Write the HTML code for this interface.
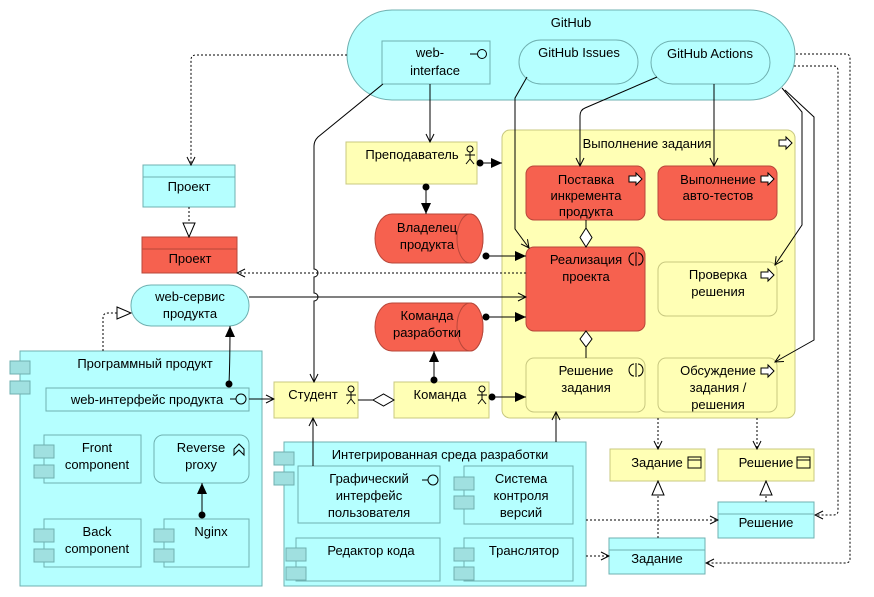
<!DOCTYPE html>
<html><head><meta charset="utf-8"><style>
html,body{margin:0;padding:0;background:#fff;}
svg{display:block;font-family:"Liberation Sans","DejaVu Sans",sans-serif;font-size:13px;}
</style></head><body>
<svg width="874" height="597" viewBox="0 0 874 597" xmlns="http://www.w3.org/2000/svg">
<defs>
<marker id="oa" markerWidth="10" markerHeight="10" refX="9" refY="5" orient="auto" markerUnits="userSpaceOnUse"><path d="M1,1 L9,5 L1,9" fill="none" stroke="#000" stroke-width="1"/></marker>
<marker id="fa" markerWidth="12" markerHeight="10" refX="11" refY="5" orient="auto" markerUnits="userSpaceOnUse"><path d="M0,0 L11,5 L0,10 Z" fill="#000"/></marker>
<marker id="dot" markerWidth="8" markerHeight="8" refX="4" refY="4" orient="auto" markerUnits="userSpaceOnUse"><circle cx="4" cy="4" r="3.5" fill="#000"/></marker>
<marker id="tri" markerWidth="16" markerHeight="14" refX="15" refY="7" orient="auto" markerUnits="userSpaceOnUse"><path d="M1,1 L15,7 L1,13 Z" fill="#fff" stroke="#000"/></marker>
</defs>

<!-- GitHub -->
<rect x="347" y="10" width="448" height="90" rx="45" fill="#b5ffff" stroke="#6fb0b0"/>
<text x="571" y="27" text-anchor="middle">GitHub</text>
<rect x="382" y="41" width="108" height="43" fill="#b5ffff" stroke="#6fb0b0"/>
<text x="430" y="57" text-anchor="middle">web-</text><text x="435" y="75" text-anchor="middle">interface</text>
<line x1="470" y1="54" x2="477" y2="54" stroke="#000"/><circle cx="482" cy="54" r="4.5" fill="none" stroke="#000"/>
<rect x="519" y="40" width="119" height="44" rx="22" fill="#b5ffff" stroke="#6fb0b0"/>
<text x="579" y="57" text-anchor="middle">GitHub Issues</text>
<rect x="651" y="41" width="119" height="43" rx="21.5" fill="#b5ffff" stroke="#6fb0b0"/>
<text x="710" y="58" text-anchor="middle">GitHub Actions</text>

<!-- Выполнение задания -->
<rect x="502" y="130" width="293" height="288" rx="8" fill="#ffffb5" stroke="#c8c880"/>
<text x="647" y="148" text-anchor="middle">Выполнение задания</text>
<path d="M779,140 h7 v-3 l6,6 l-6,6 v-3 h-7 z" fill="#fff" stroke="#000"/>

<rect x="526" y="166" width="119" height="54" rx="8" fill="#f6614f" stroke="#b8473a"/>
<text x="586" y="184" text-anchor="middle">Поставка</text><text x="586" y="200" text-anchor="middle">инкремента</text><text x="586" y="216" text-anchor="middle">продукта</text>
<path d="M629,176 h7 v-3 l6,6 l-6,6 v-3 h-7 z" fill="#fff" stroke="#000"/>
<rect x="658" y="166" width="119" height="54" rx="8" fill="#f6614f" stroke="#b8473a"/>
<text x="718" y="184" text-anchor="middle">Выполнение</text><text x="718" y="200" text-anchor="middle">авто-тестов</text>
<path d="M761,176 h7 v-3 l6,6 l-6,6 v-3 h-7 z" fill="#fff" stroke="#000"/>
<rect x="526" y="247" width="119" height="84" rx="8" fill="#f6614f" stroke="#b8473a"/>
<text x="586" y="264" text-anchor="middle">Реализация</text><text x="586" y="281" text-anchor="middle">проекта</text>
<path d="M634,253 a5,6 0 0 0 0,12 M638,253 a5,6 0 0 1 0,12 M636,252 v14" fill="none" stroke="#000"/>
<rect x="658" y="262" width="119" height="54" rx="8" fill="#ffffb5" stroke="#c8c880"/>
<text x="718" y="279" text-anchor="middle">Проверка</text><text x="718" y="296" text-anchor="middle">решения</text>
<path d="M761,272 h7 v-3 l6,6 l-6,6 v-3 h-7 z" fill="#fff" stroke="#000"/>
<rect x="526" y="358" width="119" height="54" rx="8" fill="#ffffb5" stroke="#c8c880"/>
<text x="586" y="375" text-anchor="middle">Решение</text><text x="586" y="392" text-anchor="middle">задания</text>
<path d="M634,364 a5,6 0 0 0 0,12 M638,364 a5,6 0 0 1 0,12 M636,363 v14" fill="none" stroke="#000"/>
<rect x="658" y="358" width="119" height="54" rx="8" fill="#ffffb5" stroke="#c8c880"/>
<text x="718" y="375" text-anchor="middle">Обсуждение</text><text x="718" y="392" text-anchor="middle">задания /</text><text x="718" y="409" text-anchor="middle">решения</text>
<path d="M761,368 h7 v-3 l6,6 l-6,6 v-3 h-7 z" fill="#fff" stroke="#000"/>

<!-- Преподаватель -->
<rect x="346" y="142" width="131" height="42" fill="#ffffb5" stroke="#c8c880"/>
<text x="412" y="159" text-anchor="middle">Преподаватель</text>
<g fill="none" stroke="#000"><circle cx="470" cy="149" r="3"/><path d="M470,152 v7 M465,155 h10 M470,159 l-4,5 M470,159 l4,5"/></g>

<!-- Проект -->
<rect x="143" y="165" width="92" height="42" fill="#b5ffff" stroke="#6fb0b0"/><line x1="143" y1="177" x2="235" y2="177" stroke="#6fb0b0"/>
<text x="189" y="191" text-anchor="middle">Проект</text>
<rect x="142" y="237" width="95" height="36" fill="#f6614f" stroke="#b8473a"/><line x1="142" y1="249" x2="237" y2="249" stroke="#b8473a"/>
<text x="190" y="263" text-anchor="middle">Проект</text>

<!-- cylinders -->
<path d="M392,214 H470 A13,24.5 0 0 1 470,263 H392 A17,24.5 0 0 1 392,214 Z" fill="#f6614f" stroke="#b8473a"/>
<ellipse cx="470" cy="238.5" rx="13" ry="24.5" fill="#f6614f" stroke="#b8473a"/>
<text x="427" y="232" text-anchor="middle">Владелец</text><text x="427" y="249" text-anchor="middle">продукта</text>
<path d="M392,303 H470 A13,24 0 0 1 470,351 H392 A17,24 0 0 1 392,303 Z" fill="#f6614f" stroke="#b8473a"/>
<ellipse cx="470" cy="327" rx="13" ry="24" fill="#f6614f" stroke="#b8473a"/>
<text x="427" y="320" text-anchor="middle">Команда</text><text x="427" y="337" text-anchor="middle">разработки</text>

<!-- web-сервис -->
<rect x="131" y="285" width="118" height="41" rx="20" fill="#b5ffff" stroke="#6fb0b0"/>
<text x="190" y="301" text-anchor="middle">web-сервис</text><text x="190" y="318" text-anchor="middle">продукта</text>

<!-- Программный продукт -->
<rect x="20" y="351" width="242" height="235" fill="#b5ffff" stroke="#6fb0b0"/>
<rect x="10" y="361" width="20" height="13" fill="#a0e0e0" stroke="#6fb0b0"/><rect x="10" y="381" width="20" height="13" fill="#a0e0e0" stroke="#6fb0b0"/>
<text x="145" y="368" text-anchor="middle">Программный продукт</text>
<rect x="46" y="388" width="203" height="23" fill="#b5ffff" stroke="#6fb0b0"/>
<text x="147" y="404" text-anchor="middle">web-интерфейс продукта</text>
<line x1="230" y1="399" x2="236" y2="399" stroke="#000"/><circle cx="241" cy="399" r="5" fill="none" stroke="#000"/>
<rect x="44" y="435" width="97" height="48" fill="#b5ffff" stroke="#6fb0b0"/>
<rect x="34" y="445" width="20" height="13" fill="#a0e0e0" stroke="#6fb0b0"/><rect x="34" y="465" width="20" height="13" fill="#a0e0e0" stroke="#6fb0b0"/>
<text x="97" y="452" text-anchor="middle">Front</text><text x="97" y="469" text-anchor="middle">component</text>
<rect x="154" y="435" width="95" height="48" rx="9" fill="#b5ffff" stroke="#6fb0b0"/>
<text x="201" y="452" text-anchor="middle">Reverse</text><text x="201" y="469" text-anchor="middle">proxy</text>
<path d="M234,455 v-6 l5,-5 l5,5 v6 l-5,-5 z" fill="none" stroke="#000"/>
<rect x="44" y="519" width="97" height="48" fill="#b5ffff" stroke="#6fb0b0"/>
<rect x="34" y="529" width="20" height="13" fill="#a0e0e0" stroke="#6fb0b0"/><rect x="34" y="549" width="20" height="13" fill="#a0e0e0" stroke="#6fb0b0"/>
<text x="97" y="536" text-anchor="middle">Back</text><text x="97" y="553" text-anchor="middle">component</text>
<rect x="164" y="519" width="85" height="48" fill="#b5ffff" stroke="#6fb0b0"/>
<rect x="154" y="529" width="20" height="13" fill="#a0e0e0" stroke="#6fb0b0"/><rect x="154" y="549" width="20" height="13" fill="#a0e0e0" stroke="#6fb0b0"/>
<text x="211" y="536" text-anchor="middle">Nginx</text>

<!-- Студент / Команда -->
<rect x="274" y="382" width="84" height="36" fill="#ffffb5" stroke="#c8c880"/>
<text x="313" y="399" text-anchor="middle">Студент</text>
<g fill="none" stroke="#000"><circle cx="351" cy="389" r="3"/><path d="M351,392 v7 M346,395 h10 M351,399 l-4,5 M351,399 l4,5"/></g>
<rect x="394" y="382" width="95" height="36" fill="#ffffb5" stroke="#c8c880"/>
<text x="440" y="399" text-anchor="middle">Команда</text>
<g fill="none" stroke="#000"><circle cx="482" cy="389" r="3"/><path d="M482,392 v7 M477,395 h10 M482,399 l-4,5 M482,399 l4,5"/></g>

<!-- ИСР -->
<rect x="284" y="442" width="302" height="144" fill="#b5ffff" stroke="#6fb0b0"/>
<rect x="274" y="452" width="20" height="13" fill="#a0e0e0" stroke="#6fb0b0"/><rect x="274" y="472" width="20" height="13" fill="#a0e0e0" stroke="#6fb0b0"/>
<text x="440" y="459" text-anchor="middle">Интегрированная среда разработки</text>
<rect x="298" y="466" width="142" height="57" fill="#b5ffff" stroke="#6fb0b0"/>
<text x="369" y="483" text-anchor="middle">Графический</text><text x="369" y="500" text-anchor="middle">интерфейс</text><text x="369" y="517" text-anchor="middle">пользователя</text>
<line x1="422" y1="480" x2="428" y2="480" stroke="#000"/><circle cx="433" cy="480" r="5" fill="none" stroke="#000"/>
<rect x="464" y="466" width="109" height="58" fill="#b5ffff" stroke="#6fb0b0"/>
<rect x="454" y="477" width="20" height="13" fill="#a0e0e0" stroke="#6fb0b0"/><rect x="454" y="496" width="20" height="13" fill="#a0e0e0" stroke="#6fb0b0"/>
<text x="521" y="483" text-anchor="middle">Система</text><text x="521" y="500" text-anchor="middle">контроля</text><text x="521" y="517" text-anchor="middle">версий</text>
<rect x="296" y="538" width="144" height="43" fill="#b5ffff" stroke="#6fb0b0"/>
<rect x="286" y="548" width="20" height="13" fill="#a0e0e0" stroke="#6fb0b0"/><rect x="286" y="567" width="20" height="13" fill="#a0e0e0" stroke="#6fb0b0"/>
<text x="371" y="555" text-anchor="middle">Редактор кода</text>
<rect x="464" y="538" width="109" height="43" fill="#b5ffff" stroke="#6fb0b0"/>
<rect x="454" y="548" width="20" height="13" fill="#a0e0e0" stroke="#6fb0b0"/><rect x="454" y="567" width="20" height="13" fill="#a0e0e0" stroke="#6fb0b0"/>
<text x="524" y="555" text-anchor="middle">Транслятор</text>

<!-- Задание/Решение -->
<rect x="610" y="449" width="95" height="32" fill="#ffffb5" stroke="#c8c880"/>
<text x="657" y="467" text-anchor="middle">Задание</text>
<rect x="688" y="457" width="13" height="11" fill="none" stroke="#000"/><line x1="688" y1="460" x2="701" y2="460" stroke="#000"/>
<rect x="718" y="449" width="96" height="32" fill="#ffffb5" stroke="#c8c880"/>
<text x="766" y="467" text-anchor="middle">Решение</text>
<rect x="797" y="457" width="13" height="11" fill="none" stroke="#000"/><line x1="797" y1="460" x2="810" y2="460" stroke="#000"/>
<rect x="718" y="502" width="96" height="36" fill="#b5ffff" stroke="#6fb0b0"/><line x1="718" y1="514" x2="814" y2="514" stroke="#6fb0b0"/>
<text x="766" y="527" text-anchor="middle">Решение</text>
<rect x="609" y="538" width="96" height="36" fill="#b5ffff" stroke="#6fb0b0"/><line x1="609" y1="550" x2="705" y2="550" stroke="#6fb0b0"/>
<text x="657" y="563" text-anchor="middle">Задание</text>

<!-- connectors -->
<g fill="none" stroke="#000" stroke-width="1">
<path d="M347,55 H196 Q191,55 191,60 V165" stroke-dasharray="2,2" marker-end="url(#oa)"/>
<path d="M189,207 V237" stroke-dasharray="2,2" marker-end="url(#tri)"/>
<path d="M383,84 L318,137 Q314,141 314,146 V269 a4,4 0 0 1 0,8 V293 a4,4 0 0 1 0,8 V382" marker-end="url(#oa)"/>
<path d="M430,84 V142" marker-end="url(#oa)"/>
<path d="M426,187 V214" marker-start="url(#dot)" marker-end="url(#fa)"/>
<path d="M480,163 H502" marker-start="url(#dot)" marker-end="url(#fa)"/>
<path d="M527,77 L515,98 V229 L529,248" marker-end="url(#oa)"/>
<path d="M657,77 L585,108 Q580,110 580,116 V166" marker-end="url(#oa)"/>
<path d="M714,84 V166" marker-end="url(#oa)"/>
<path d="M782,88 L802,112 V225 L775,265" marker-end="url(#oa)"/>
<path d="M785,90 L814,117 V340 L775,362" marker-end="url(#oa)"/>
<path d="M796,54 H846 Q850,54 850,59 V559 Q850,563 845,563 H706" stroke-dasharray="2,2" marker-end="url(#oa)"/>
<path d="M794,66 H834 Q838,66 838,71 V511 Q838,515 833,515 H815" stroke-dasharray="2,2" marker-end="url(#oa)"/>
<path d="M526,273 H237" stroke-dasharray="2,2" marker-end="url(#oa)"/>
<path d="M249,297 H526" marker-end="url(#oa)"/>
<path d="M486,256 H526" marker-start="url(#dot)" marker-end="url(#fa)"/>
<path d="M486,317 H526" marker-start="url(#dot)" marker-end="url(#fa)"/>
<path d="M586,220 V228"/>
<path d="M586,347 V358"/>
<path d="M358,400 H373"/>
<path d="M434,380 V351" marker-start="url(#dot)" marker-end="url(#fa)"/>
<path d="M492,397 H526" marker-start="url(#dot)" marker-end="url(#fa)"/>
<path d="M556,442 V412" marker-end="url(#oa)"/>
<path d="M313,466 V418" marker-end="url(#oa)"/>
<path d="M249,399 H274" marker-end="url(#oa)"/>
<path d="M229,384 Q230,360 230,326" marker-start="url(#dot)" marker-end="url(#fa)"/>
<path d="M103,351 V318 Q103,313 108,313 H131" stroke-dasharray="2,2" marker-end="url(#tri)"/>
<path d="M202,515 V483" marker-start="url(#dot)" marker-end="url(#fa)"/>
<path d="M658,418 V449" stroke-dasharray="2,2" marker-end="url(#oa)"/>
<path d="M757,418 V449" stroke-dasharray="2,2" marker-end="url(#oa)"/>
<path d="M658,538 V481" stroke-dasharray="2,2" marker-end="url(#tri)"/>
<path d="M766,502 V481" stroke-dasharray="2,2" marker-end="url(#tri)"/>
<path d="M586,520 H718" stroke-dasharray="2,2" marker-end="url(#oa)"/>
<path d="M586,556 H609" stroke-dasharray="2,2" marker-end="url(#oa)"/>
</g>
<!-- diamonds -->
<g fill="#fff" stroke="#000">
<path d="M586,228 L592,237.5 L586,247 L580,237.5 Z"/>
<path d="M586,331 L592,339 L586,347 L580,339 Z"/>
<path d="M373,400 L383.5,394 L394,400 L383.5,406 Z"/>
</g>
</svg>
</body></html>
